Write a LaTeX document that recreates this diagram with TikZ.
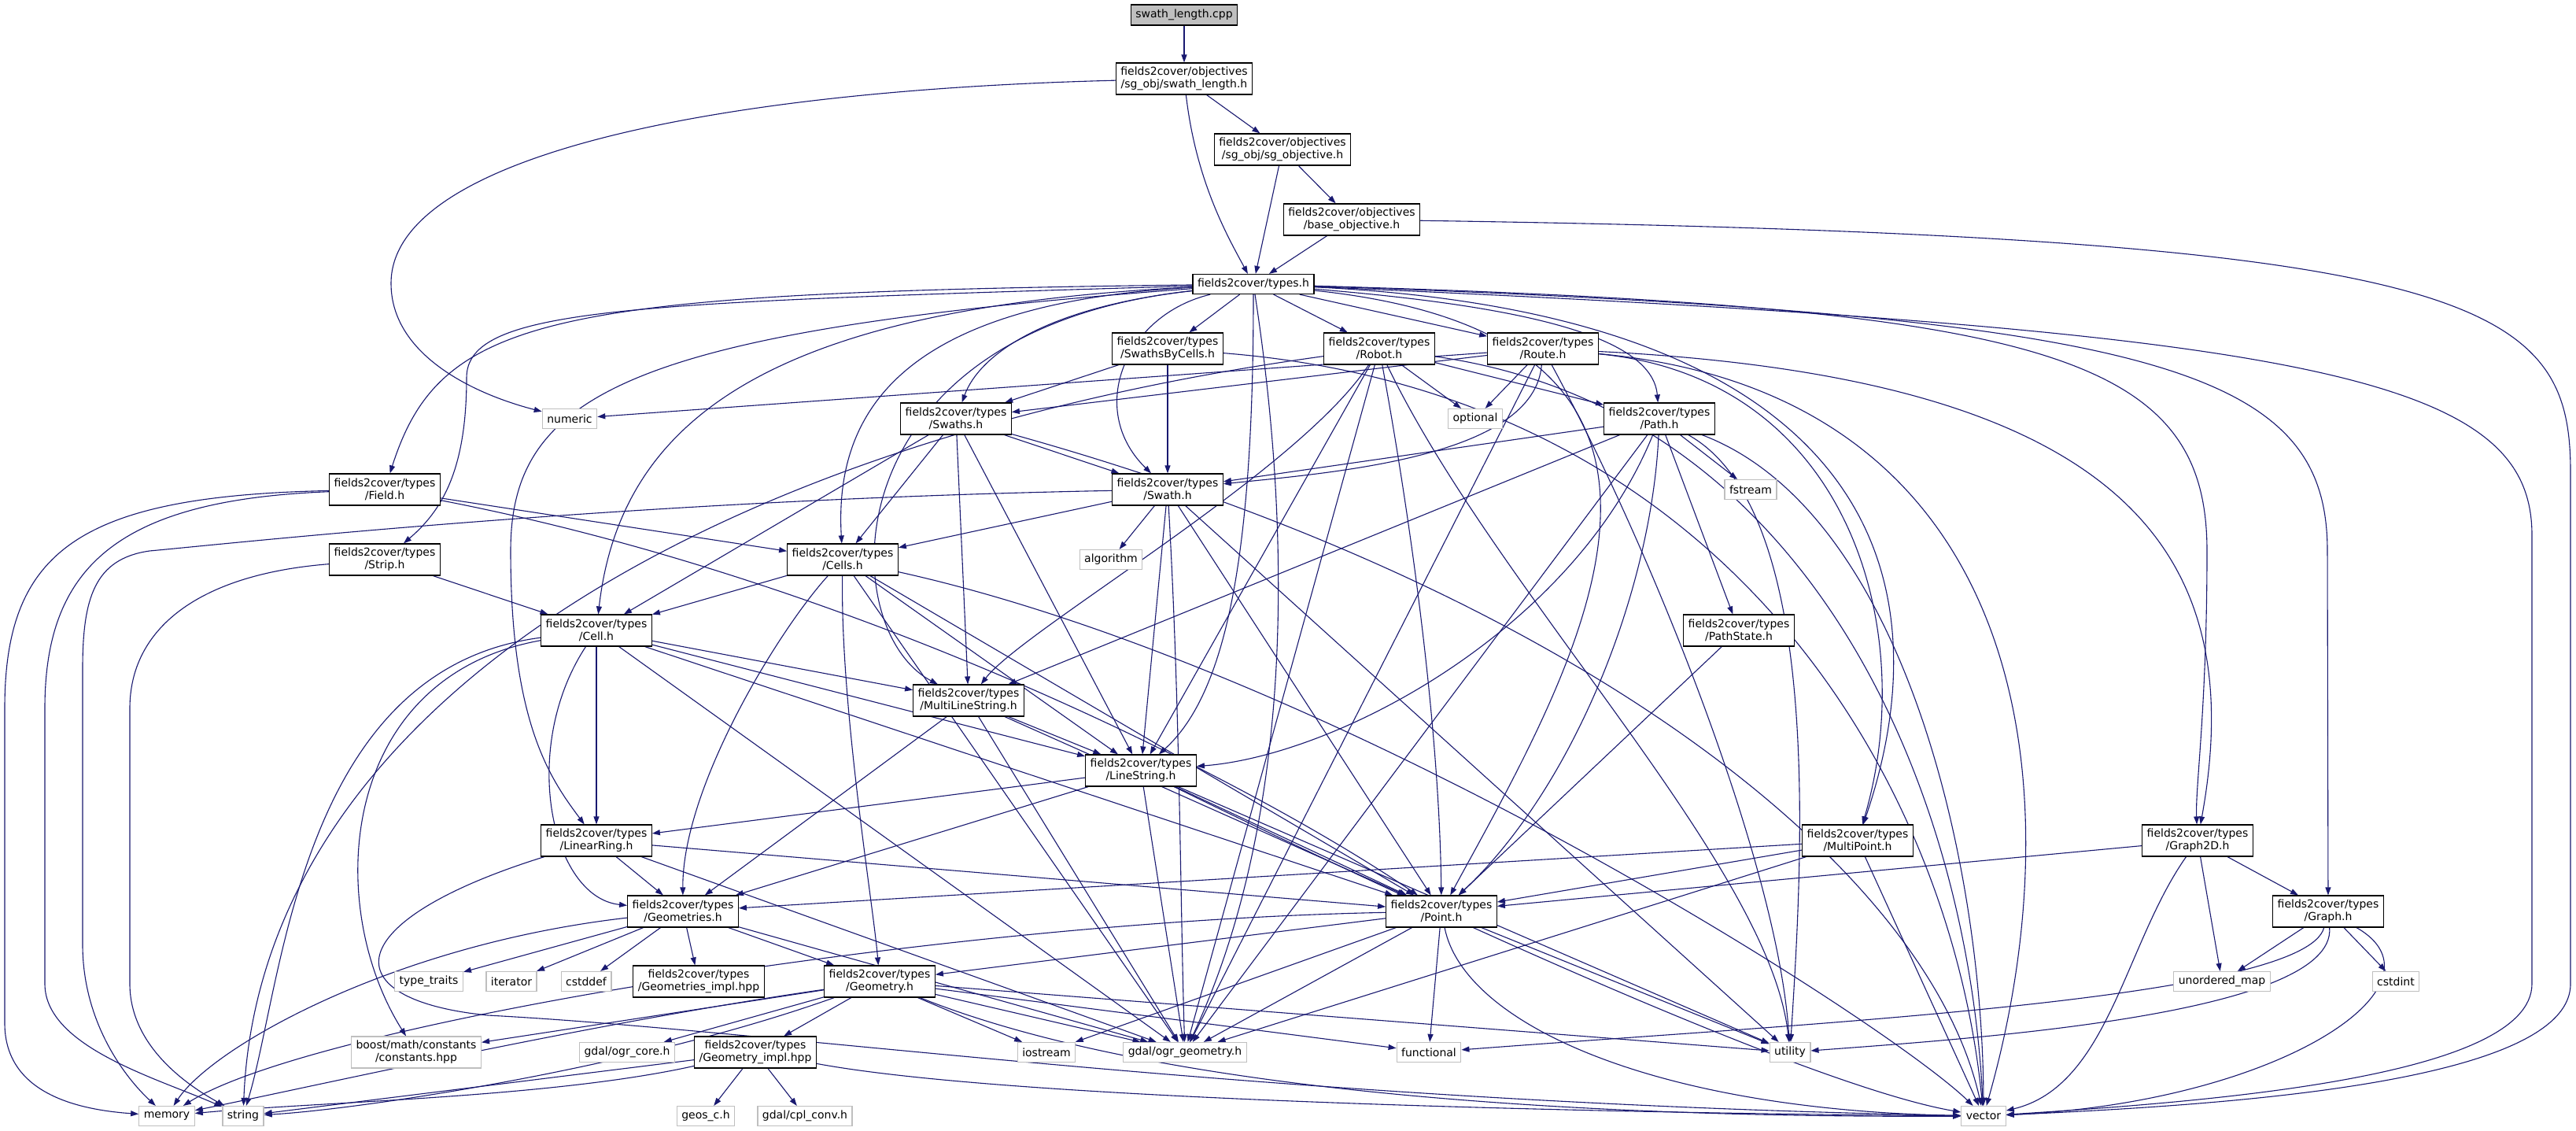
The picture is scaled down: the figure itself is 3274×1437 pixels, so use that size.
\documentclass[tikz,border=0pt]{standalone}
\usepackage{fontspec}
\setmainfont{DejaVu Sans}
\usetikzlibrary{arrows.meta}
\definecolor{edgec}{HTML}{191970}
\definecolor{grayb}{HTML}{BFBFBF}
\pgfdeclarelayer{bg}
\pgfsetlayers{bg,main}
\begin{document}
\begin{tikzpicture}[x=1pt,y=-1pt,
  every node/.style={font=\fontsize{14}{16}\selectfont, inner xsep=6pt, inner ysep=0pt, align=center, line width=1.2pt},
  fnode/.style={draw=black, fill=white, minimum height=40pt},
  f1node/.style={draw=black, fill=white, minimum height=25pt},
  snode/.style={draw=grayb, fill=white, minimum height=25pt},
  s2node/.style={draw=grayb, fill=white, minimum height=40pt},
  cppnode/.style={draw=black, fill=grayb, minimum height=26pt},
  dep/.style={draw=edgec, line width=1.1pt, -{Triangle[length=10pt,width=7pt]}},
]
\useasboundingbox (0,0) rectangle (3274,1437);

\node[cppnode] (cpp) at (1505,19) {swath\_length.cpp};
\node[fnode] (slh) at (1505,100) {fields2cover/objectives\\/sg\_obj/swath\_length.h};
\node[fnode] (sgo) at (1630,190) {fields2cover/objectives\\/sg\_obj/sg\_objective.h};
\node[fnode] (bo) at (1718,279) {fields2cover/objectives\\/base\_objective.h};
\node[f1node] (types) at (1593,361) {fields2cover/types.h};
\node[snode] (numeric) at (724,532) {numeric};
\node[fnode] (sbc) at (1484,443) {fields2cover/types\\/SwathsByCells.h};
\node[fnode] (robot) at (1753,443) {fields2cover/types\\/Robot.h};
\node[fnode] (route) at (1961,443) {fields2cover/types\\/Route.h};
\node[snode] (optional) at (1875,532) {optional};
\node[fnode] (swaths) at (1215,532) {fields2cover/types\\/Swaths.h};
\node[fnode] (path) at (2109,532) {fields2cover/types\\/Path.h};
\node[fnode] (field) at (489,622) {fields2cover/types\\/Field.h};
\node[fnode] (swath) at (1484,622) {fields2cover/types\\/Swath.h};
\node[snode] (fstream) at (2225,622) {fstream};
\node[snode] (algorithm) at (1412,711) {algorithm};
\node[fnode] (strip) at (489,711) {fields2cover/types\\/Strip.h};
\node[fnode] (cells) at (1071,711) {fields2cover/types\\/Cells.h};
\node[fnode] (cell) at (758,801) {fields2cover/types\\/Cell.h};
\node[fnode] (pathstate) at (2210,801) {fields2cover/types\\/PathState.h};
\node[fnode] (mls) at (1231,890) {fields2cover/types\\/MultiLineString.h};
\node[fnode] (ls) at (1450,979) {fields2cover/types\\/LineString.h};
\node[fnode] (lr) at (758,1068) {fields2cover/types\\/LinearRing.h};
\node[fnode] (mp) at (2361,1068) {fields2cover/types\\/MultiPoint.h};
\node[fnode] (g2d) at (2793,1068) {fields2cover/types\\/Graph2D.h};
\node[fnode] (geoms) at (868,1158) {fields2cover/types\\/Geometries.h};
\node[fnode] (point) at (1832,1158) {fields2cover/types\\/Point.h};
\node[fnode] (graph) at (2959,1158) {fields2cover/types\\/Graph.h};
\node[snode] (typetraits) at (545,1247) {type\_traits};
\node[snode] (iterator) at (650,1247) {iterator};
\node[snode] (cstddef) at (745,1247) {cstddef};
\node[fnode] (geomsimpl) at (888,1247) {fields2cover/types\\/Geometries\_impl.hpp};
\node[fnode] (geometry) at (1118,1247) {fields2cover/types\\/Geometry.h};
\node[snode] (umap) at (2824,1247) {unordered\_map};
\node[snode] (cstdint) at (3045,1247) {cstdint};
\node[s2node] (boost) at (529,1337) {boost/math/constants\\/constants.hpp};
\node[snode] (ogrcore) at (797,1337) {gdal/ogr\_core.h};
\node[fnode] (geomimpl) at (960,1337) {fields2cover/types\\/Geometry\_impl.hpp};
\node[snode] (iostream) at (1330,1337) {iostream};
\node[snode] (ogrgeom) at (1506,1337) {gdal/ogr\_geometry.h};
\node[snode] (functional) at (1816,1337) {functional};
\node[snode] (utility) at (2275,1337) {utility};
\node[snode] (memory) at (212,1418) {memory};
\node[snode] (string) at (309,1418) {string};
\node[snode] (geos) at (897,1418) {geos\_c.h};
\node[snode] (cplconv) at (1023,1418) {gdal/cpl\_conv.h};
\node[snode] (vector) at (2521,1418) {vector};

\begin{pgfonlayer}{bg}
\fill[white] (0,0) rectangle (3274,1437);
% top
\draw[dep] (cpp) -- (slh);
\draw[dep] (slh) -- (sgo);
\draw[dep] (slh) .. controls (1520,230) and (1560,300) .. (types);
\draw[dep] (slh) .. controls (900,115) and (497,200) .. (497,360) .. controls (497,450) and (600,500) .. (numeric);
\draw[dep] (sgo) -- (types);
\draw[dep] (sgo) -- (bo);
\draw[dep] (bo) -- (types);
\draw[dep] (bo) .. controls (3150,300) and (3267,380) .. (3267,600) -- (3267,1250) .. controls (3267,1380) and (2800,1405) .. (vector);
% types
\draw[dep] (types) -- (sbc);
\draw[dep] (types) -- (robot);
\draw[dep] (types) -- (route);
\draw[dep] (types) .. controls (1950,390) and (2100,430) .. (path);
\draw[dep] (types) .. controls (1430,400) and (1380,520) .. (swath);
\draw[dep] (types) .. controls (1330,390) and (1245,450) .. (swaths);
\draw[dep] (types) .. controls (1150,385) and (1060,520) .. (cells);
\draw[dep] (types) .. controls (1000,390) and (790,520) .. (cell);
\draw[dep] (types) .. controls (700,372) and (560,400) .. (field);
\draw[dep] (types) .. controls (800,385) and (593,390) .. (593,480) .. controls (593,600) and (560,650) .. (strip);
\draw[dep] (types) .. controls (800,420) and (649,500) .. (649,700) .. controls (649,920) and (700,990) .. (lr);
\draw[dep] (types) .. controls (1050,420) and (1060,800) .. (mls);
\draw[dep] (types) .. controls (1593,700) and (1560,880) .. (ls);
\draw[dep] (types) .. controls (1645,700) and (1640,1050) .. (ogrgeom);
\draw[dep] (types) .. controls (2250,430) and (2000,850) .. (point);
\draw[dep] (types) .. controls (2400,400) and (2470,750) .. (mp);
\draw[dep] (types) .. controls (2600,390) and (2805,450) .. (2805,700) .. controls (2805,900) and (2790,1000) .. (g2d);
\draw[dep] (types) .. controls (2750,400) and (2958,470) .. (2958,700) -- (graph);
\draw[dep] (types) .. controls (2950,420) and (3218,480) .. (3218,680) -- (3218,1250) .. controls (3218,1370) and (2800,1400) .. (vector);
% SwathsByCells
\draw[dep] (sbc) -- (swaths);
\draw[dep] (sbc) -- (swath);
\draw[dep] (sbc) .. controls (2200,500) and (2480,1000) .. (vector);
% Robot
\draw[dep] (robot) -- (optional);
\draw[dep] (robot) -- (path);
\draw[dep] (robot) -- (ls);
\draw[dep] (robot) .. controls (1650,600) and (1300,800) .. (mls);
\draw[dep] (robot) .. controls (1800,700) and (1830,950) .. (point);
\draw[dep] (robot) -- (ogrgeom);
\draw[dep] (robot) .. controls (1900,750) and (2250,1100) .. (utility);
\draw[dep] (robot) .. controls (900,560) and (330,900) .. (string);
\draw[dep] (robot) .. controls (2300,520) and (2500,1000) .. (vector);
% Route
\draw[dep] (route) -- (optional);
\draw[dep] (route) -- (swaths);
\draw[dep] (route) .. controls (1950,580) and (1700,600) .. (swath);
\draw[dep] (route) -- (numeric);
\draw[dep] (route) -- (ogrgeom);
\draw[dep] (route) .. controls (2350,480) and (2440,800) .. (mp);
\draw[dep] (route) .. controls (2700,480) and (2860,700) .. (g2d);
\draw[dep] (route) .. controls (2580,500) and (2640,1000) .. (vector);
\draw[dep] (route) .. controls (2100,700) and (2260,1100) .. (utility);
% Path
\draw[dep] (path) -- (fstream);
\draw[dep] (path) -- (pathstate);
\draw[dep] (path) -- (swath);
\draw[dep] (path) -- (mls);
\draw[dep] (path) .. controls (2000,800) and (1700,960) .. (ls);
\draw[dep] (path) .. controls (2099,750) and (2000,1000) .. (point);
\draw[dep] (path) -- (ogrgeom);
\draw[dep] (path) .. controls (2320,650) and (2290,1100) .. (utility);
\draw[dep] (path) .. controls (2420,650) and (2520,1100) .. (vector);
% Swaths
\draw[dep] (swaths) -- (swath);
\draw[dep] (swaths) -- (cells);
\draw[dep] (swaths) -- (cell);
\draw[dep] (swaths) -- (mls);
\draw[dep] (swaths) -- (ls);
\draw[dep] (swaths) .. controls (2000,750) and (2450,1100) .. (vector);
% Swath
\draw[dep] (swath) -- (algorithm);
\draw[dep] (swath) -- (cells);
\draw[dep] (swath) -- (ls);
\draw[dep] (swath) .. controls (1500,900) and (1500,1150) .. (ogrgeom);
\draw[dep] (swath) -- (utility);
\draw[dep] (swath) -- (point);
\draw[dep] (swath) .. controls (800,635) and (300,690) .. (190,700) .. controls (120,710) and (105,760) .. (105,850) -- (105,1200) .. controls (105,1300) and (160,1370) .. (memory);
% Field, Strip
\draw[dep] (field) -- (cells);
\draw[dep] (field) .. controls (1100,740) and (1600,1000) .. (point);
\draw[dep] (field) .. controls (100,630) and (6,700) .. (6,900) -- (6,1300) .. controls (6,1390) and (100,1410) .. (memory);
\draw[dep] (field) .. controls (150,635) and (57,720) .. (57,900) -- (57,1250) .. controls (57,1330) and (200,1370) .. (string);
\draw[dep] (strip) -- (cell);
\draw[dep] (strip) .. controls (250,730) and (165,800) .. (165,900) -- (165,1250) .. controls (165,1330) and (240,1380) .. (string);
% Cells
\draw[dep] (cells) -- (cell);
\draw[dep] (cells) .. controls (990,800) and (867,1000) .. (geoms);
\draw[dep] (cells) .. controls (1068,900) and (1110,1150) .. (geometry);
\draw[dep] (cells) -- (ls);
\draw[dep] (cells) -- (point);
\draw[dep] (cells) -- (ogrgeom);
\draw[dep] (cells) .. controls (1700,850) and (2400,1300) .. (vector);
% Cell
\draw[dep] (cell) .. controls (660,950) and (700,1140) .. (geoms);
\draw[dep] (cell) -- (lr);
\draw[dep] (cell) -- (mls);
\draw[dep] (cell) -- (ls);
\draw[dep] (cell) -- (point);
\draw[dep] (cell) -- (ogrgeom);
\draw[dep] (cell) .. controls (430,860) and (411,1150) .. (boost);
\draw[dep] (cell) .. controls (380,850) and (360,1250) .. (string);
% MultiLineString
\draw[dep] (mls) -- (geoms);
\draw[dep] (mls) -- (ls);
\draw[dep] (mls) -- (point);
\draw[dep] (mls) -- (ogrgeom);
% LineString
\draw[dep] (ls) -- (lr);
\draw[dep] (ls) -- (geoms);
\draw[dep] (ls) -- (point);
\draw[dep] (ls) -- (ogrgeom);
\draw[dep] (ls) .. controls (1800,1150) and (2300,1380) .. (vector);
\draw[dep] (ls) -- (utility);
% LinearRing
\draw[dep] (lr) -- (geoms);
\draw[dep] (lr) -- (point);
\draw[dep] (lr) -- (ogrgeom);
\draw[dep] (lr) .. controls (430,1170) and (420,1270) .. (620,1290) .. controls (1000,1310) and (1600,1400) .. (vector);
% MultiPoint
\draw[dep] (mp) -- (geoms);
\draw[dep] (mp) -- (point);
\draw[dep] (mp) -- (ogrgeom);
\draw[dep] (mp) -- (vector);
% Graph2D, Graph
\draw[dep] (g2d) -- (point);
\draw[dep] (g2d) -- (graph);
\draw[dep] (g2d) -- (umap);
\draw[dep] (g2d) .. controls (2700,1200) and (2680,1380) .. (vector);
\draw[dep] (graph) -- (umap);
\draw[dep] (graph) -- (cstdint);
\draw[dep] (graph) .. controls (2930,1270) and (2300,1300) .. (functional);
\draw[dep] (graph) .. controls (2970,1290) and (2500,1320) .. (utility);
\draw[dep] (graph) .. controls (3120,1250) and (2900,1400) .. (vector);
% PathState
\draw[dep] (pathstate) -- (point);
% Point
\draw[dep] (point) -- (geometry);
\draw[dep] (point) .. controls (1200,1170) and (400,1300) .. (memory);
\draw[dep] (point) -- (iostream);
\draw[dep] (point) -- (ogrgeom);
\draw[dep] (point) -- (functional);
\draw[dep] (point) .. controls (1860,1300) and (2100,1410) .. (vector);
\draw[dep] (point) -- (utility);
% Geometries
\draw[dep] (geoms) .. controls (500,1200) and (270,1330) .. (memory);
\draw[dep] (geoms) -- (typetraits);
\draw[dep] (geoms) -- (iterator);
\draw[dep] (geoms) -- (cstddef);
\draw[dep] (geoms) -- (geomsimpl);
\draw[dep] (geoms) -- (geometry);
\draw[dep] (geoms) -- (ogrgeom);
% Geometry
\draw[dep] (geometry) -- (boost);
\draw[dep] (geometry) -- (ogrcore);
\draw[dep] (geometry) -- (geomimpl);
\draw[dep] (geometry) .. controls (750,1300) and (400,1380) .. (memory);
\draw[dep] (geometry) .. controls (800,1360) and (450,1410) .. (string);
\draw[dep] (geometry) -- (iostream);
\draw[dep] (geometry) -- (ogrgeom);
\draw[dep] (geometry) -- (functional);
\draw[dep] (geometry) -- (utility);
\draw[dep] (geometry) .. controls (1500,1400) and (2100,1420) .. (vector);
% Geometry_impl
\draw[dep] (geomimpl) -- (geos);
\draw[dep] (geomimpl) -- (cplconv);
\draw[dep] (geomimpl) .. controls (700,1395) and (400,1400) .. (memory);
\draw[dep] (geomimpl) -- (string);
\draw[dep] (geomimpl) .. controls (1300,1400) and (2100,1415) .. (vector);
\end{pgfonlayer}
\end{tikzpicture}
\end{document}
